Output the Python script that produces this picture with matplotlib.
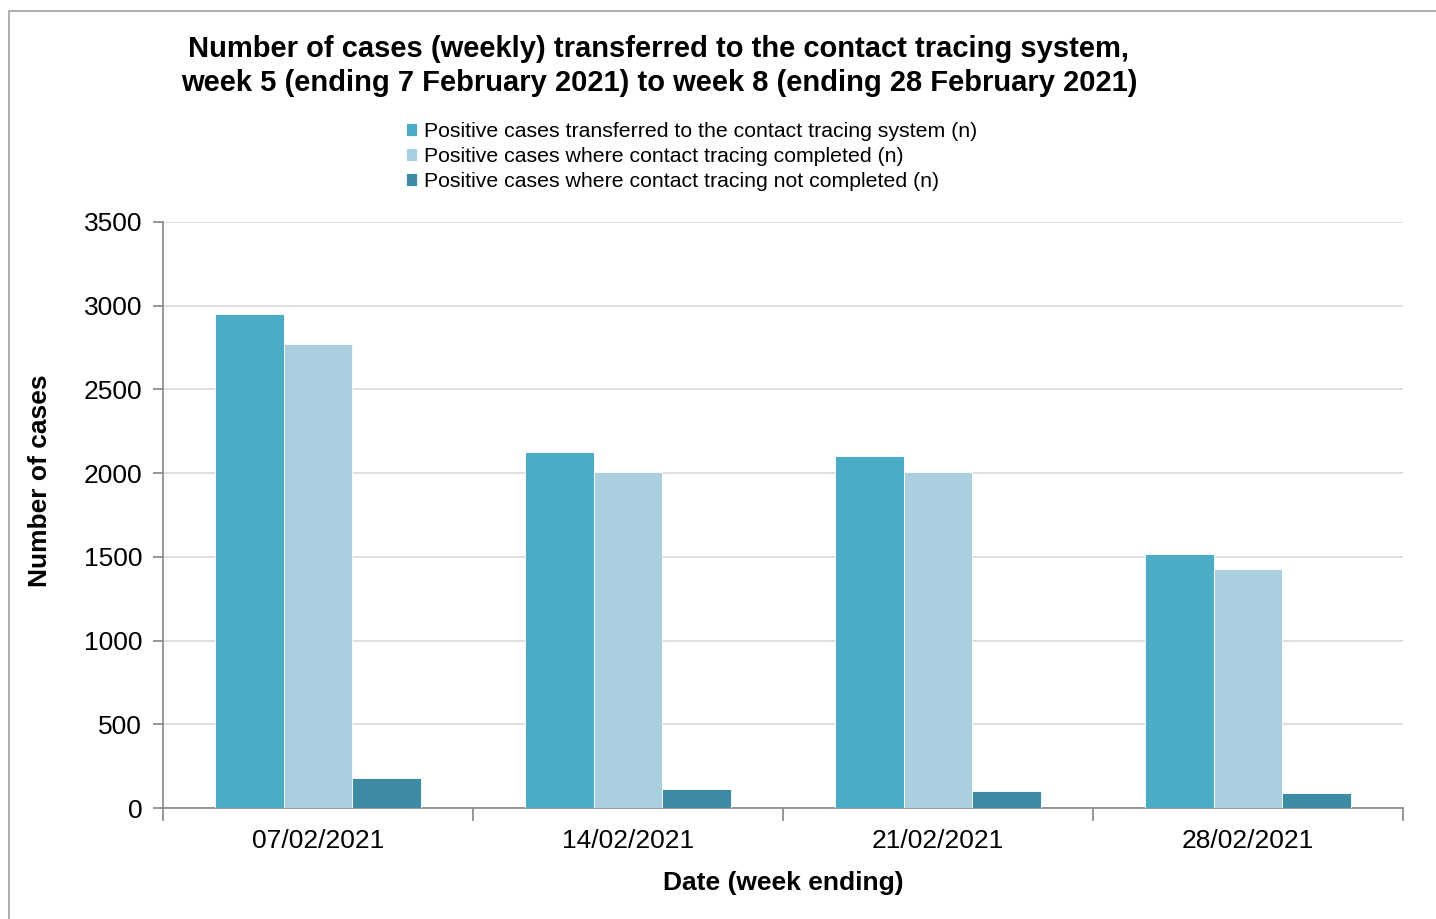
import numpy as np
import matplotlib.pyplot as plt
from matplotlib.patches import Rectangle

plt.rcParams["font.family"] = ["Liberation Sans", "DejaVu Sans"]

weeks = ["07/02/2021", "14/02/2021", "21/02/2021", "28/02/2021"]
transferred = [2950, 2125, 2105, 1515]
completed = [2770, 2005, 2005, 1425]
not_completed = [180, 115, 100, 90]

series_names = [
    "Positive cases transferred to the contact tracing system (n)",
    "Positive cases where contact tracing completed (n)",
    "Positive cases where contact tracing not completed (n)",
]
colors = ["#4bacc6", "#aacfde", "#3d8ca3"]

fig = plt.figure(figsize=(14.36, 9.19), dpi=100)
fig.patches.append(Rectangle((9 / 1436, -0.01), 1.02, 1 - 11 / 919 + 0.01,
                             transform=fig.transFigure, fill=False,
                             edgecolor="#a0a0a0", linewidth=1.2))
ax = fig.add_axes([163 / 1436, 111 / 919, 1240 / 1436, 586 / 919])

x = np.arange(len(weeks))
w = 0.222
for i, (vals, name) in enumerate(zip([transferred, completed, not_completed], series_names)):
    ax.bar(x + (i - 1) * w, vals, width=w, color=colors[i], label=name,
           edgecolor="white", linewidth=0.6, zorder=3)

ax.set_xlim(-0.5, len(weeks) - 0.5)
ax.set_ylim(0, 3500)
ax.set_yticks(range(0, 3501, 500))
ax.set_xticks(x)
ax.set_xticklabels(weeks)
ax.set_xticks(np.arange(-0.5, len(weeks)), minor=True)
ax.tick_params(axis="x", which="major", length=0, labelsize=19, pad=15)
ax.tick_params(axis="x", which="minor", length=9, color="#868686", width=1.2)
ax.tick_params(axis="y", length=7, color="#868686", width=1.2, labelsize=19, pad=8)
ax.grid(axis="y", color="#d9d9d9", linewidth=1.2, zorder=0)
for s in ["top", "right"]:
    ax.spines[s].set_visible(False)
for s in ["left", "bottom"]:
    ax.spines[s].set_color("#868686")
    ax.spines[s].set_linewidth(1.2)

ax.set_ylabel("Number of cases", fontsize=19, fontweight="bold")
ax.yaxis.set_label_coords((52 - 163) / 1240, (808 - 481) / 586)
ax.set_xlabel("Date (week ending)", fontsize=19, fontweight="bold", labelpad=13)

fig.text(659 / 1436, 1 - 66 / 919,
         "Number of cases (weekly) transferred to the contact tracing system,\n"
         "week 5 (ending 7 February 2021) to week 8 (ending 28 February 2021)",
         ha="center", va="center", fontsize=21, fontweight="bold", linespacing=1.3)

ax.legend(loc="upper left", bbox_to_anchor=(395 / 1436, 1 - 111 / 919),
          bbox_transform=fig.transFigure, frameon=False, fontsize=15.3,
          handlelength=0.55, handleheight=0.55, handletextpad=0.3,
          labelspacing=0.3, borderpad=0)

fig.savefig("out.png", dpi=100)
